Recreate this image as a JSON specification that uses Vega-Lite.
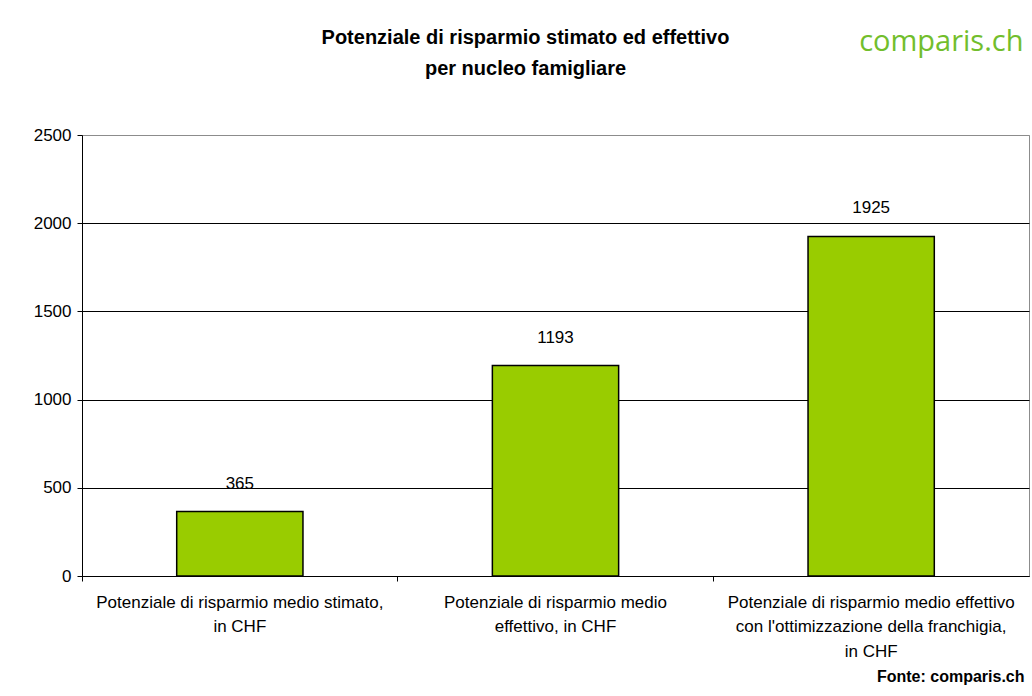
{
  "$schema": "https://vega.github.io/schema/vega-lite/v6.json",
  "width": 947,
  "height": 441,
  "autosize": {"type": "none"},
  "padding": {"left": 82, "top": 135, "right": 3, "bottom": 120},
  "background": "white",
  "config": {
    "view": {"stroke": "#8c8c8c", "strokeWidth": 1},
    "font": "Liberation Sans"
  },
  "data": {
    "values": [
      {"categoria": "Potenziale di risparmio medio stimato, in CHF", "valore": 365},
      {"categoria": "Potenziale di risparmio medio effettivo, in CHF", "valore": 1193},
      {"categoria": "Potenziale di risparmio medio effettivo con l'ottimizzazione della franchigia, in CHF", "valore": 1925}
    ]
  },
  "resolve": {"axis": {"y": "independent"}},
  "layer": [
    {
      "mark": {"type": "bar", "fill": "#99CC00", "stroke": "#000000", "strokeWidth": 1.5, "width": {"band": 0.4}},
      "encoding": {
        "x": {
          "field": "categoria",
          "type": "nominal",
          "sort": null,
          "scale": {"paddingInner": 0, "paddingOuter": 0},
          "axis": {
            "title": "Fonte: comparis.ch",
            "titleFont": "Liberation Sans",
            "titleFontSize": 16,
            "titleFontWeight": "bold",
            "titleColor": "#000000",
            "titleAnchor": "end",
            "titleAlign": "right",
            "titleBaseline": "middle",
            "titleX": 942,
            "titleY": 100,
            "labelAngle": 0,
            "labelFont": "Liberation Sans",
            "labelFontSize": 17,
            "labelColor": "#000000",
            "labelLineHeight": 24.5,
            "labelPadding": 13,
            "bandPosition": 0,
            "ticks": true,
            "tickSize": 5,
            "tickColor": "#000000",
            "domainColor": "#000000",
            "grid": false,
            "labelOverlap": false,
            "labelBound": false,
            "labelLimit": 0,
            "labelExpr": "datum.index == 0 ? ['Potenziale di risparmio medio stimato,', 'in CHF'] : datum.index < 0.9 ? ['Potenziale di risparmio medio', 'effettivo, in CHF'] : ['Potenziale di risparmio medio effettivo', \"con l'ottimizzazione della franchigia,\", 'in CHF']"
          }
        },
        "y": {
          "field": "valore",
          "type": "quantitative",
          "scale": {"domain": [0, 2500], "nice": false},
          "axis": {
            "orient": "left",
            "title": ["Potenziale di risparmio stimato ed effettivo", "per nucleo famigliare"],
            "titleFont": "Liberation Sans",
            "titleFontSize": 20,
            "titleFontWeight": "bold",
            "titleColor": "#000000",
            "titleAngle": 0,
            "titleAlign": "center",
            "titleBaseline": "alphabetic",
            "titleLineHeight": 31,
            "titleX": 443,
            "titleY": -92,
            "values": [0, 500, 1000, 1500, 2000, 2500],
            "format": "d",
            "labelFont": "Liberation Sans",
            "labelFontSize": 17,
            "labelColor": "#000000",
            "labelPadding": 6,
            "tickSize": 5,
            "tickColor": "#000000",
            "domainColor": "#000000",
            "grid": true,
            "gridColor": {"condition": {"test": "datum.value == 2500", "value": "#8c8c8c"}, "value": "#000000"},
            "gridOpacity": 1
          }
        }
      }
    },
    {
      "mark": {"type": "text", "dy": -28, "fontSize": 17, "font": "Liberation Sans", "color": "#000000"},
      "encoding": {
        "x": {"field": "categoria", "type": "nominal", "sort": null},
        "y": {
          "field": "valore",
          "type": "quantitative",
          "axis": {
            "orient": "right",
            "title": "comparis.ch",
            "titleFont": "Open Sans",
            "titleFontSize": 29,
            "titleFontWeight": "normal",
            "titleColor": "#72BE2C",
            "titleAngle": 0,
            "titleAlign": "right",
            "titleBaseline": "alphabetic",
            "titleX": -6,
            "titleY": -85,
            "domain": false,
            "ticks": false,
            "labels": false,
            "grid": false
          }
        },
        "text": {"field": "valore", "type": "quantitative", "format": "d"}
      }
    }
  ]
}
